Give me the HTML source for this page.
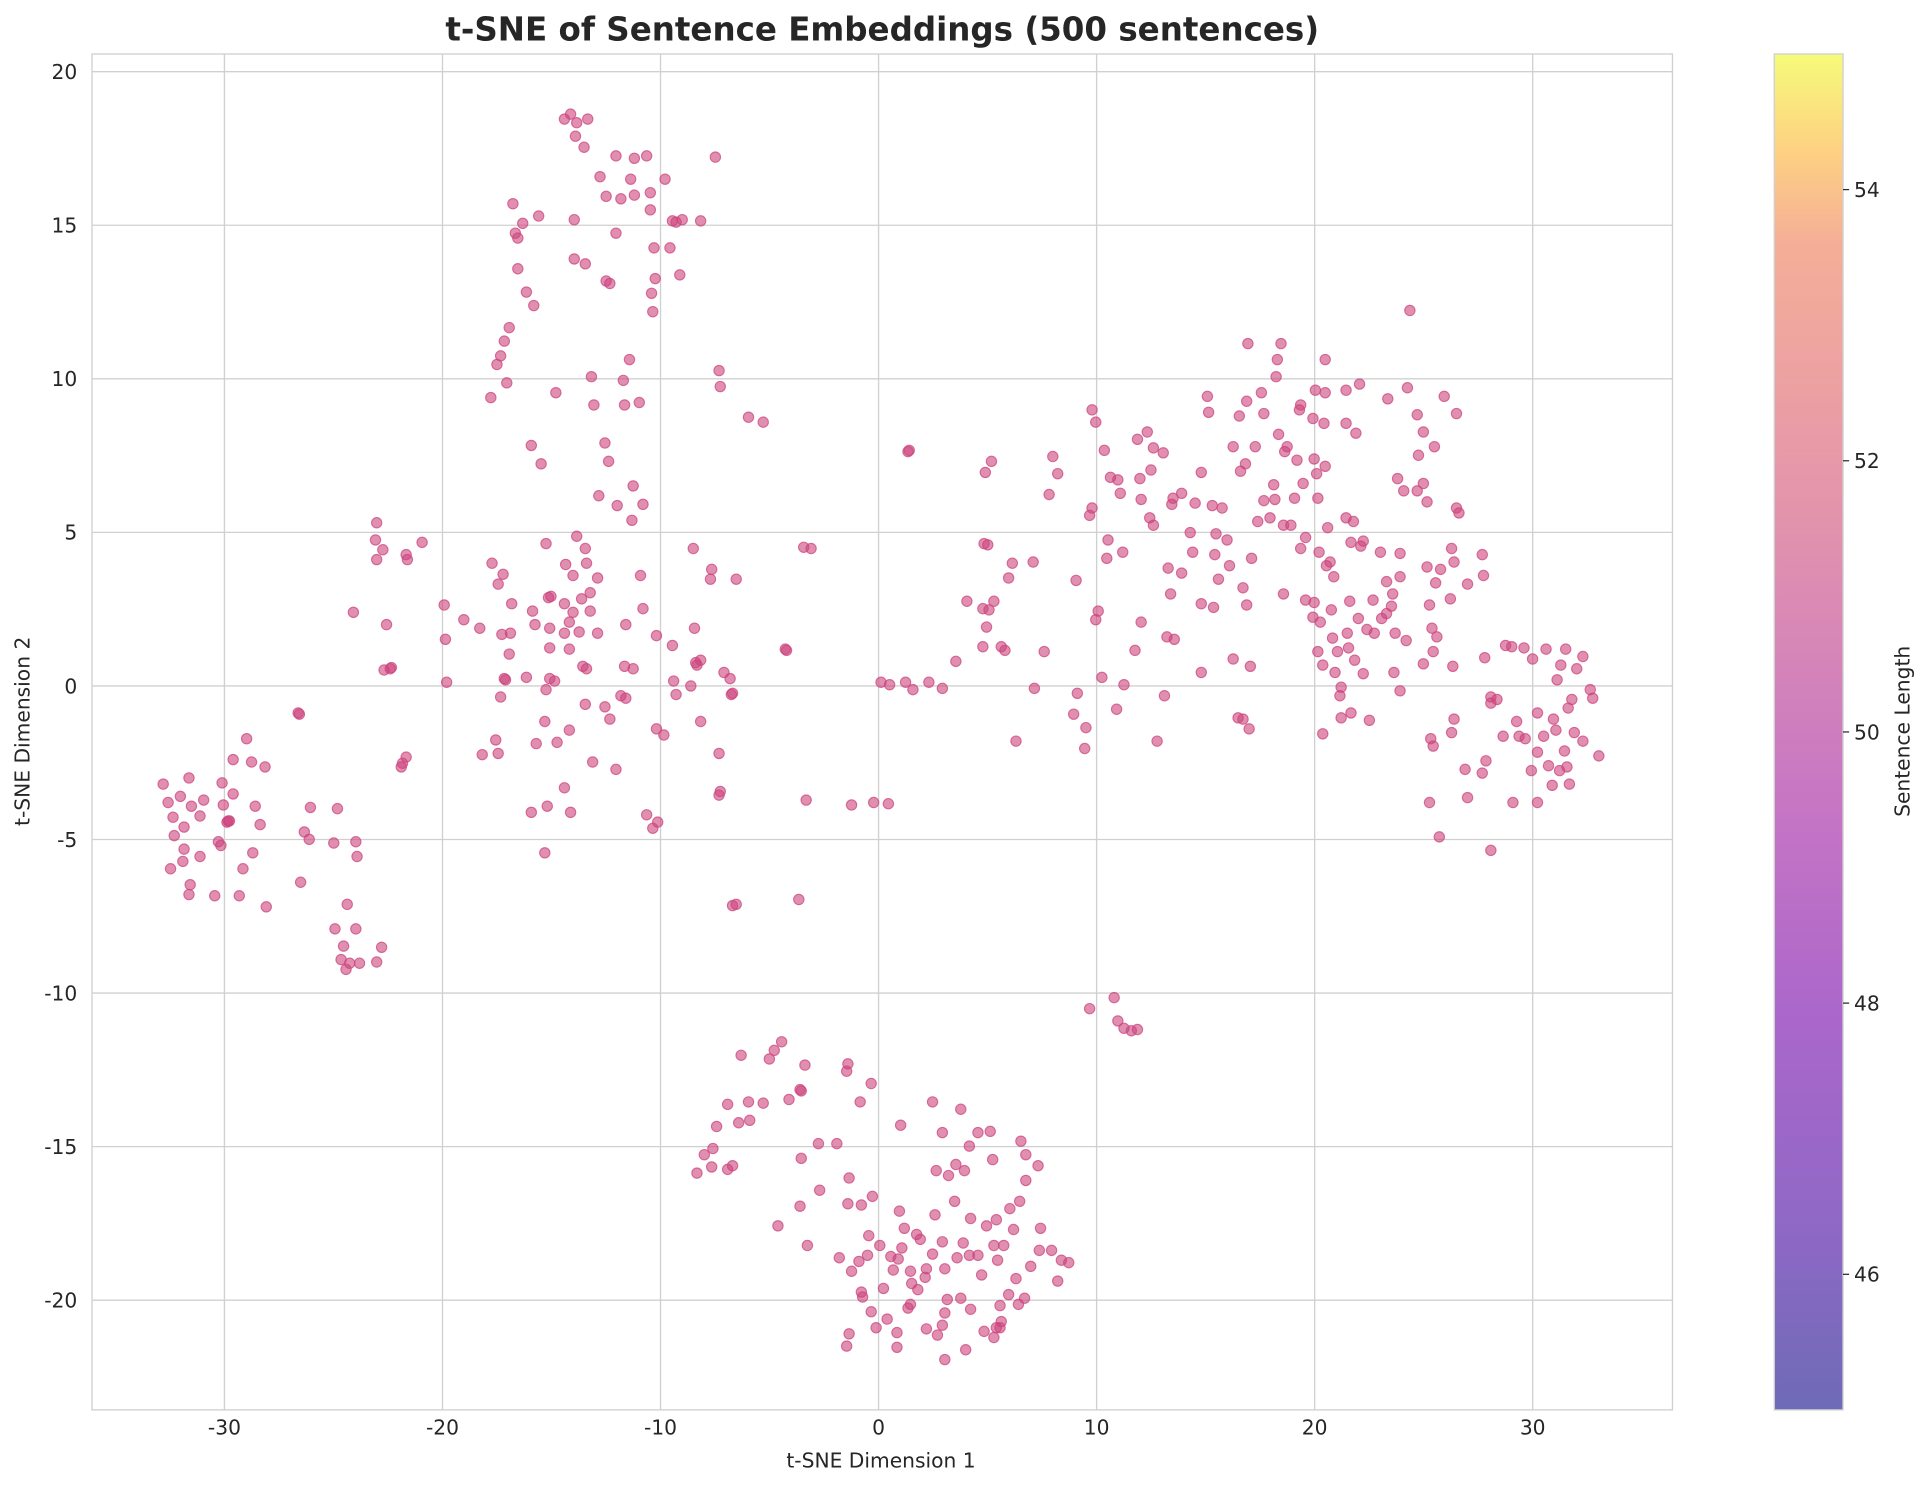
<!DOCTYPE html>
<html><head><meta charset="utf-8"><style>
html,body{margin:0;padding:0;background:#fff}
svg{display:block}
text{font-family:"DejaVu Sans","Liberation Sans",sans-serif;fill:#262626}
</style></head><body>
<svg id="s" width="1924" height="1485" viewBox="0 0 1568 1210.2" xmlns="http://www.w3.org/2000/svg">
<defs>
<linearGradient id="pl" x1="0" y1="1" x2="0" y2="0">
<stop offset="0" stop-color="#0d0887"/><stop offset="0.14" stop-color="#46039f"/>
<stop offset="0.29" stop-color="#7201a8"/><stop offset="0.43" stop-color="#9c179e"/>
<stop offset="0.57" stop-color="#bd3786"/><stop offset="0.71" stop-color="#d8576b"/>
<stop offset="0.86" stop-color="#ed7953"/><stop offset="0.93" stop-color="#fdb42f"/>
<stop offset="1" stop-color="#f0f921"/>
</linearGradient>
</defs>
<rect x="75" y="44" width="1288" height="1105" fill="#fff"/>
<g id="grid" stroke="#d0d0d0" stroke-width="1.1"></g>
<rect x="75" y="44" width="1288" height="1105" fill="none" stroke="#d0d0d0" stroke-width="1.1"/>
<g id="pts" fill="rgb(204,68,125)" fill-opacity="0.6" stroke="rgb(204,68,125)" stroke-opacity="0.75" stroke-width="0.9"></g>
<g id="lbl" font-size="16.5"></g>
<text x="719" y="33" font-size="26.5" font-weight="bold" text-anchor="middle">t-SNE of Sentence Embeddings (500 sentences)</text>
<text x="718" y="1196" font-size="16.5" text-anchor="middle">t-SNE Dimension 1</text>
<text transform="translate(24,596) rotate(-90)" font-size="16.5" text-anchor="middle">t-SNE Dimension 2</text>
<rect x="1446" y="44" width="56" height="1105" fill="url(#pl)" opacity="0.6"/>
<rect x="1446" y="44" width="56" height="1105" fill="none" stroke="#d0d0d0" stroke-width="1.1"/>
<g id="cb" font-size="16.5"></g>
<text transform="translate(1556,596) rotate(-90)" font-size="16.5" text-anchor="middle">Sentence Length</text>
</svg>
<script>
var NS="http://www.w3.org/2000/svg";
function el(p,t,a,txt){var e=document.createElementNS(NS,t);for(var k in a)e.setAttribute(k,a[k]);if(txt!=null)e.textContent=txt;document.getElementById(p).appendChild(e);}
for(var v=-30;v<=30;v+=10){var x=716+17.77*v;el("grid","line",{x1:x,x2:x,y1:44,y2:1149});el("lbl","text",{x:x,y:1169,"text-anchor":"middle"},String(v));}
for(var v=-20;v<=20;v+=5){var y=559-25.03*v;el("grid","line",{x1:75,x2:1363,y1:y,y2:y});el("lbl","text",{x:63,y:y+6,"text-anchor":"end"},String(v));}
[46,48,50,52,54].forEach(function(v){var y=1149-(v-45)*110.5;el("cb","line",{x1:1502,x2:1507,y1:y,y2:y,stroke:"#262626","stroke-width":1});el("cb","text",{x:1511,y:y+6},String(v));});
var P=[460,97,465,93,470,100,479,97,469,111,476,120,502,127,517,129,527,127,583,128,489,144,494,160,506,162,517,159,530,157,514,146,542,146,530,171,556,179,551,181,548,180,571,180,418,166,420,190,422,194,426,182,439,176,468,179,502,190,533,202,546,202,554,224,534,227,468,211,477,215,422,219,429,238,435,249,494,229,497,231,531,239,532,254,415,267,411,278,408,290,413,312,405,297,400,324,453,320,482,307,484,330,513,293,508,310,509,330,521,328,586,302,587,315,610,340,622,344,
493,361,496,376,433,363,441,378,516,396,488,404,503,412,524,411,470,437,477,447,478,459,467,469,461,460,515,424,487,471,481,483,474,488,445,443,447,487,449,486,460,492,464,507,472,515,464,529,448,512,448,528,448,553,481,498,487,516,475,543,452,555,444,588,454,605,464,595,477,574,483,621,460,642,465,662,478,545,510,509,509,543,506,567,497,586,502,627,510,569,516,545,493,576,522,469,524,496,535,518,527,664,536,670,532,675,535,594,541,599,549,555,551,566,548,526,565,447,580,464,579,472,600,472,566,512,567,540,568,542,571,538,563,559,590,548,595,553,571,588,596,566,597,565,586,648,587,645,600,737,597,738,586,614,401,459,406,476,409,517,411,553,404,603,391,512,378,505,362,493,363,521,364,556,344,442,332,456,331,452,312,448,307,426,313,546,318,545,331,617,328,622,327,625,393,615,415,533,434,498,436,509,417,492,416,516,410,468,445,562,437,606,460,516,467,499,433,662,444,695,446,657,408,568,406,614,412,554,429,552,
288,499,307,456,306,440,315,509,319,544,243,581,244,582,253,658,248,678,252,684,245,719,272,687,275,659,290,686,291,698,283,737,290,757,273,757,280,771,278,782,282,790,285,785,293,785,307,784,311,772,
133,639,137,654,147,649,154,634,141,666,142,681,150,674,156,657,163,665,166,652,181,638,190,619,201,602,205,621,216,625,182,656,186,669,187,669,178,686,180,689,208,657,212,672,206,695,198,708,190,647,163,698,149,702,139,708,155,721,154,729,175,730,195,730,217,739,185,670,150,692,
655,446,661,447,640,529,641,530,657,652,651,733,652,888,653,889,652,983,694,656,712,654,724,655,718,556,725,558,738,556,744,562,740,368,741,367,757,556,768,561,779,539,801,527,804,511,810,490,806,497,801,496,816,527,819,530,822,471,825,459,788,490,802,443,805,444,808,376,803,385,828,604,842,458,843,561,851,531,855,403,858,372,862,386,877,473,875,582,878,565,884,610,885,593,888,420,890,414,893,505,895,498,890,334,893,344,898,552,900,367,902,455,903,440,905,389,911,391,915,450,910,578,916,558,925,530,930,507,937,422,940,365,940,428,949,567,952,463,951,519,954,484,955,411,957,521,963,402,970,434,974,410,979,385,979,492,984,323,985,336,990,452,991,435,989,495,988,412,996,414,1002,461,1005,364,1010,339,1011,384,1015,378,1016,327,1018,594,1013,586,1019,543,1016,493,1013,479,1017,280,1035,422,1038,395,1041,293,1046,484,1046,428,1044,280,1049,364,1052,428,1059,334,1062,394,1074,406,1079,345,1080,293,1081,461,1084,458,1070,341,1072,318,1080,320,1057,375,1071,374,1080,380,1082,430,1042,354,1039,407,1097,345,1097,422,1103,425,1105,353,1101,442,1108,313,1097,318,1109,445,1104,538,1088,548,1093,585,1078,598,1093,560,1090,531,1114,513,1126,504,1130,500,1135,484,1139,390,1141,470,1141,563,1136,548,1147,316,1149,253,1155,338,1144,400,1155,400,1163,409,1165,493,1170,475,1174,464,1182,488,1160,394,1156,371,1160,352,1163,462,1160,541,1169,364,1177,323,1187,337,1185,458,1187,414,1196,476,1209,469,1208,452,1215,568,1215,573,1189,418,1168,531,1183,447,1134,494,1125,450,1078,542,1092,567,1099,528,1071,491,1070,503,1073,386,1060,330,1040,307,1130,474,1086,520,1111,549,1137,516,1146,522,1131,325,1111,441,1107,504,1119,489,1141,451,1101,581,1055,406,1075,450,1047,368,1028,320,1030,337,972,450,956,406,935,352,929,390,927,358,938,383,1085,497,1116,587,948,369,930,407,913,402,1076,507,1064,489,1020,455,1005,537,979,548,963,467,1025,425,1064,438,993,472,1087,470,1098,516,1074,531,1100,490,1000,440,1060,447,1023,364,1030,408,943,604,1009,585,1120,516,1167,512,1183,597,1165,654,1168,608,1171,519,1184,543,1166,602,1173,682,
1210,536,1232,527,1227,526,1242,528,1249,537,1260,529,1276,529,1290,535,1272,542,1269,554,1285,545,1296,562,1298,569,1281,570,1278,577,1266,586,1253,581,1238,600,1236,588,1220,570,1211,620,1208,630,1225,600,1233,654,1243,602,1258,600,1268,595,1262,624,1271,628,1275,612,1290,604,1277,625,1283,597,1248,628,1253,613,1265,640,1253,654,1279,639,1303,616,1185,586,1194,627,1196,650,1215,693,
656,868,643,896,622,899,610,898,611,913,604,860,593,900,602,915,584,918,574,941,593,953,691,867,690,873,701,898,710,883,682,932,692,960,691,981,702,982,711,975,667,932,627,863,631,856,580,951,568,956,581,936,597,950,668,970,637,849,653,944,634,999,658,1015,684,1025,694,1036,707,1023,703,1057,710,1069,700,1028,708,1007,717,1015,726,1024,735,1017,728,1035,742,1036,743,1046,748,1051,755,1034,760,1022,762,990,750,1010,768,1012,780,1025,785,1013,747,1006,732,1026,770,1034,772,1059,770,1070,783,1058,768,1080,790,1023,797,1023,800,1039,810,1015,813,1027,816,1077,815,1082,804,999,809,945,807,922,778,979,791,993,818,1015,828,1042,830,1063,840,1032,847,1019,848,1001,815,1064,810,1090,791,1067,754,1041,742,1063,733,987,737,1001,720,1050,723,1075,731,1086,714,1082,731,1098,702,1053,692,1087,690,1097,755,1083,764,1088,770,1108,787,1100,802,1085,812,1082,822,1055,835,1058,740,1066,871,1029,763,954,773,958,734,917,760,898,768,923,783,904,790,934,779,949,797,923,786,954,812,994,823,985,836,941,846,950,832,930,865,1027,888,822,908,813,911,832,916,838,922,840,927,839,862,1044,826,1002,831,979,836,962,857,1019];
for(var i=0;i<P.length;i+=2)el("pts","circle",{cx:P[i],cy:P[i+1],r:4.2});
</script>
</body></html>
